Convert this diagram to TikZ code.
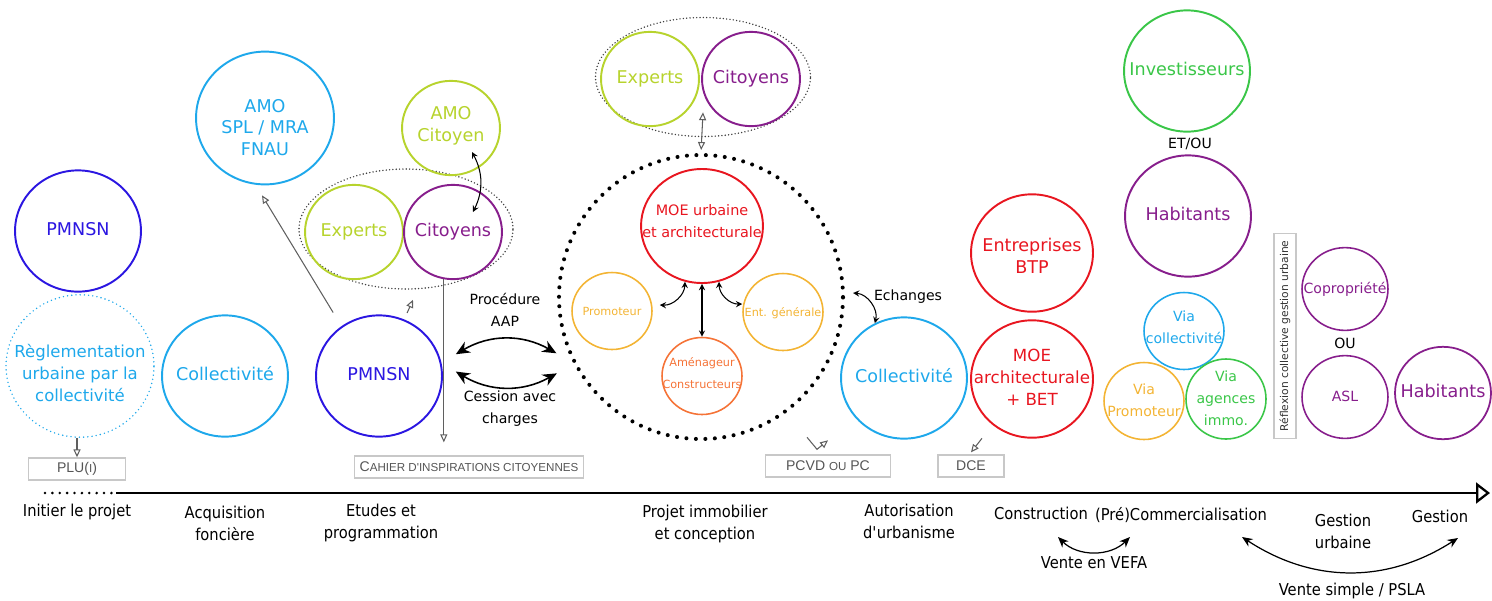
\documentclass[tikz,border=0pt]{standalone}
\usepackage{fontspec}
\setmainfont{DejaVu Sans}
\newfontfamily\stagefont[FakeStretch=0.9]{DejaVu Sans}
\newfontfamily\docfont{Liberation Sans}
\usetikzlibrary{shapes.geometric,arrows.meta}

\definecolor{pmblue}{RGB}{43,22,225}
\definecolor{skyblue}{RGB}{30,168,235}
\definecolor{limegreen}{RGB}{183,211,45}
\definecolor{plum}{RGB}{135,30,140}
\definecolor{moered}{RGB}{232,22,32}
\definecolor{amber}{RGB}{243,180,52}
\definecolor{tangerine}{RGB}{245,115,55}
\definecolor{leafgreen}{RGB}{58,198,72}
\definecolor{boxgrey}{RGB}{200,200,200}
\definecolor{docgrey}{RGB}{85,85,85}
\definecolor{pointgrey}{RGB}{95,95,95}

% text of a bubble, optionally moved up or down
\newcommand\bubtext[2][0pt]{\makebox[0pt]{\raisebox{#1}[\height][\depth]{\begin{tabular}{@{}c@{}}#2\end{tabular}}}}
\newcommand\fauxsc[1]{{\fontsize{6.6}{8}\selectfont\MakeUppercase{#1}}}

\tikzset{
  bubble/.style={shape=ellipse, draw, line width=1.1pt, inner sep=0pt,
    minimum width=#1*0.04cm, minimum height=#1*0.0385cm,
    font=\fontsize{10}{12.5}\selectfont},
  minibubble/.style={bubble=#1, line width=0.9pt, font=\fontsize{8}{12.5}\selectfont},
  tinybubble/.style={bubble=#1, line width=0.9pt, font=\fontsize{6.4}{12.5}\selectfont},
  group/.style={shape=ellipse, draw=black!75, line width=0.9pt,
    dash pattern=on 0pt off 1.9pt, line cap=round, inner sep=0pt},
  docbox/.style={draw=boxgrey, line width=0.8pt, text=docgrey, inner sep=0pt,
    minimum height=0.44cm, font=\docfont\fontsize{8}{10}\selectfont},
  note/.style={align=center, inner sep=0pt, font=\fontsize{8}{12.5}\selectfont},
  stage/.style={align=center, inner sep=0pt, font=\stagefont\fontsize{9.3}{12.5}\selectfont},
  pointer/.style={draw=pointgrey, line width=0.6pt, -{Triangle[open, length=4.5pt, width=4pt]}},
  twinpointer/.style={pointer, {Triangle[open, length=4.5pt, width=4pt]}-{Triangle[open, length=4.5pt, width=4pt]}},
  link/.style={<->, line width=0.6pt},
  deal/.style={{Stealth[length=8pt, width=7pt]}-{Stealth[length=8pt, width=7pt]}, line width=0.9pt},
  sale/.style={{Stealth[length=6pt, width=5pt]}-{Stealth[length=6pt, width=5pt]}, line width=0.7pt},
}

\begin{document}
\begin{tikzpicture}[x=0.02cm, y=-0.02cm, >=stealth]
\useasboundingbox (0,0) rectangle (1492,600);

% initier le projet / acquisition
\node (pmnsnA) at (78, 231) [bubble=63, draw=pmblue, text=pmblue] {\bubtext{PMNSN}};
\node (regl) at (80, 366) [bubble=74, draw=skyblue, text=skyblue, line width=0.9pt,
  dash pattern=on 0pt off 2.4pt, line cap=round, font=\fontsize{9.4}{12.5}\selectfont]
  {\bubtext[-5pt]{Règlementation\\urbaine par la\\collectivité}};
\node (plu) at (77, 469) [docbox, minimum width=97*0.02cm] {PLU(\fauxsc{i})};
\node (collA) at (225, 376) [bubble=63, draw=skyblue, text=skyblue] {\bubtext{Collectivité}};
\node (amo) at (265, 118) [bubble=69, draw=skyblue, text=skyblue] {\bubtext[-6.6pt]{AMO\\SPL / MRA\\FNAU}};

% etudes et programmation
\node (pmnsnB) at (379, 376) [bubble=63, draw=pmblue, text=pmblue] {\bubtext{PMNSN}};
\node (grpA) at (406, 229) [group, minimum width=214*0.02cm, minimum height=120*0.02cm] {};
\node (expA) at (354, 232) [bubble=49, draw=limegreen, text=limegreen] {\bubtext{Experts}};
\node (citA) at (453, 232) [bubble=49, draw=plum, text=plum] {\bubtext{Citoyens}};
\node (amocit) at (451, 128) [bubble=49, draw=limegreen, text=limegreen] {\bubtext[1pt]{AMO\\Citoyen}};
\node (cahier) at (469, 467) [docbox, minimum width=229*0.02cm]
  {C\fauxsc{ahier d\textquotesingle inspirations citoyennes}};
\node (aap) at (505, 310) [note] {Procédure\\AAP};
\node (cession) at (510, 409) [note] {Cession avec\\charges};

% projet immobilier et conception
\node (ring) at (701, 297) [shape=circle, draw, minimum size=284*0.02cm, line width=2.3pt,
  dash pattern=on 0pt off 5.4pt, line cap=round] {};
\node (grpB) at (703, 77) [group, minimum width=215*0.02cm, minimum height=119*0.02cm] {};
\node (expB) at (650, 79) [bubble=49, draw=limegreen, text=limegreen] {\bubtext{Experts}};
\node (citB) at (751, 79) [bubble=49, draw=plum, text=plum] {\bubtext{Citoyens}};
\node (moe) at (702, 226) [bubble=61, draw=moered, text=moered, minimum height=114*0.02cm,
  font=\fontsize{8.2}{12.5}\selectfont] {\bubtext[2.3pt]{MOE urbaine\\et architecturale}};
\node (promo) at (612, 311) [tinybubble=40, draw=amber, text=amber] {\bubtext{Promoteur}};
\node (entg) at (783, 312) [tinybubble=40, draw=amber, text=amber] {\bubtext{Ent. générale}};
\node (amen) at (702, 376) [tinybubble=40, draw=tangerine, text=tangerine] {\bubtext[1.5pt]{Aménageur\\Constructeurs}};

% autorisation d'urbanisme
\node (collB) at (904, 378) [bubble=63, draw=skyblue, text=skyblue] {\bubtext{Collectivité}};
\node (echanges) at (908, 297) [note] {Echanges};
\node (pcvd) at (828, 466) [docbox, minimum width=125*0.02cm] {PCVD \fauxsc{ou} PC};
\node (dce) at (971, 466) [docbox, minimum width=66*0.02cm] {DCE};

% construction / commercialisation
\node (btp) at (1032, 253) [bubble=61, draw=moered, text=moered] {\bubtext[-2.8pt]{Entreprises\\BTP}};
\node (moearch) at (1032, 379) [bubble=61, draw=moered, text=moered,
  font=\fontsize{9.5}{12.5}\selectfont] {\bubtext{MOE\\architecturale\\+ BET}};
\node (invest) at (1187, 71) [bubble=63, draw=leafgreen, text=leafgreen] {\bubtext{Investisseurs}};
\node (etou) at (1190, 144) [note] {ET/OU};
\node (habA) at (1188, 216) [bubble=63, draw=plum, text=plum] {\bubtext{Habitants}};
\node (viacoll) at (1184, 331) [minibubble=40, draw=skyblue, text=skyblue] {\bubtext[1.7pt]{Via\\collectivité}};
\node (viapromo) at (1144, 401) [minibubble=40, draw=amber, text=amber] {\bubtext{Via\\Promoteur}};
\node (viaagence) at (1226, 399) [minibubble=40, shape=circle, minimum size=80*0.02cm,
  draw=leafgreen, text=leafgreen] {\bubtext{Via\\agences\\immo.}};

% gestion
\node (reflex) at (1285, 336) [draw=boxgrey, line width=0.8pt, rotate=90, inner sep=0pt,
  minimum width=205*0.02cm, minimum height=22*0.02cm, text=black!80,
  font=\fontsize{6.1}{7}\selectfont] {Réflexion collective gestion urbaine};
\node (copro) at (1345, 289) [minibubble=43, draw=plum, text=plum] {\bubtext{Copropriété}};
\node (ou) at (1345, 343) [note] {OU};
\node (asl) at (1345, 397) [minibubble=43, draw=plum, text=plum] {\bubtext{ASL}};
\node (habB) at (1443, 393) [bubble=48, line width=1pt, draw=plum, text=plum] {\bubtext{Habitants}};

% frise
\coordinate (tl0) at (45, 493);
\coordinate (tl1) at (116, 493);
\coordinate (tl2) at (1490, 493);
\draw [line width=1.6pt, dash pattern=on 0pt off 4.2pt, line cap=round] (tl0) -- (tl1);
\draw [line width=1.6pt, -{Triangle[open, length=0.28cm, width=0.42cm, line width=1.3pt]}] (tl1) -- (tl2);

\node (sInit) at (77, 512) [stage] {Initier le projet};
\node (sAcq) at (225, 523) [stage] {Acquisition\\foncière};
\node (sEtu) at (381, 523) [stage] {Etudes et\\programmation};
\node (sProj) at (705, 524) [stage] {Projet immobilier\\et conception};
\node (sAuto) at (909, 521) [stage] {Autorisation\\d\textquotesingle urbanisme};
\node (sConstr) at (1041, 513) [stage] {Construction};
\node (sCom) at (1181, 515) [stage] {(Pré)Commercialisation};
\node (sGestU) at (1343, 531) [stage] {Gestion\\urbaine};
\node (sGest) at (1440, 516) [stage] {Gestion};
\node (vefa) at (1094, 563) [stage] {Vente en VEFA};
\node (psla) at (1352, 591) [stage] {Vente simple / PSLA};

% liens
\draw [pointer] (plu.north |- regl.south) -- (plu.north);
\draw [pointer, shorten <=0.32cm] (pmnsnB.127) -- ([shift={(-3,10)}]amo.south);
\draw [pointer, shorten <=0.14cm] (pmnsnB.66) -- ([shift={(7,10)}]grpA.south);
\draw [link] ([shift={(21,24)}]amocit.center) to [bend left=27] ([shift={(20,-20)}]citA.center);
\draw [pointer, shorten >=0.26cm] (citA.-101) -- (citA.-101 |- cahier.north);
\draw [deal] ([shift={(17,0)}]pmnsnB.20) to [bend left=30] ([shift={(-12,0)}]ring.203);
\draw [deal] ([shift={(13,0)}]pmnsnB.4) to [bend right=30] ([shift={(-22,0)}]ring.212);
\draw [twinpointer, shorten >=0.06cm] ([shift={(0,-25)}]grpB.south) -- (ring.north);
\draw [link] (moe.south) -- (amen.north);
\draw [link] (moe.-107) to [bend left=45] ([shift={(7,-6)}]promo.east);
\draw [link] (moe.-73) to [bend right=45] ([shift={(0,-8)}]entg.west);
\draw [link] ([shift={(8,-4)}]ring.east) to [bend left=50] (collB.118);
\draw [pointer] ([shift={(-21,-17)}]pcvd.north) -- ([shift={(-11,-5)}]pcvd.north) -- ([shift={(0,-14)}]pcvd.north);
\draw [pointer] ([shift={(11,-16)}]dce.north) -- ([shift={(0,-2)}]dce.north);
\draw [sale] ([shift={(17,24)}]sConstr.center) to [bend right=45] ([shift={(-51,22)}]sCom.center);
\draw [sale] ([shift={(61,22)}]sCom.center) to [bend right=33] ([shift={(18,22)}]sGest.center);
\end{tikzpicture}
\end{document}
